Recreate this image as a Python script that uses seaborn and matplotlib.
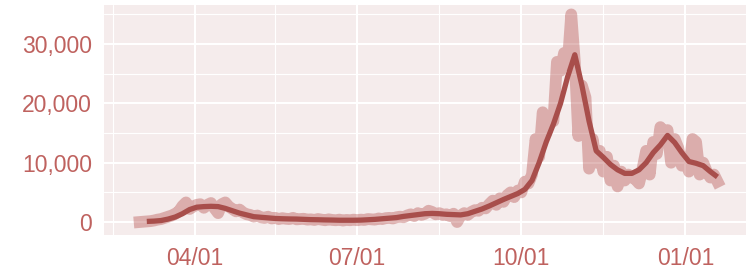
import matplotlib
matplotlib.use("Agg")
import matplotlib.pyplot as plt
import matplotlib.dates as mdates
import matplotlib.ticker as mticker
import seaborn as sns
import pandas as pd

# daily cases, sampled every 2 days from 2020-03-01
raw_cases = [
    0, 50, 100, 150, 250, 400, 500, 700, 900, 1100, 1400, 1800, 2700, 3300, 2200, 2600,
    2900, 3000, 2400, 2900, 3200, 2300, 1500, 3000, 3300, 2600, 2200, 1800, 2100, 1600, 1300,
    1200, 900, 1100, 800, 700, 900, 600, 700, 500, 650, 550, 500, 700, 450, 500,
    550, 400, 450, 350, 500, 400, 300, 450, 350, 300, 400, 250, 350, 300, 400,
    300, 400, 350, 500, 450, 400, 600, 500, 650, 700, 600, 800, 900, 800, 1100,
    1300, 1000, 1500, 1200, 1400, 1900, 1700, 1300, 1500, 1200, 1300, 1000, 1400, 0, 1100,
    1500, 1200, 1700, 2000, 1900, 2400, 2300, 3000, 3600, 2900, 4000, 3400, 4500, 5000, 4200,
    5300, 5000, 6800, 6500, 8000, 14000, 11000, 18500, 15000, 17500, 17000, 27000, 25500, 28500, 26500,
    35000, 27000, 14500, 23000, 21000, 9000, 14000, 10000, 12000, 8500, 11000, 7000, 9500, 6000, 8500,
    7000, 8000, 7500, 7200, 6500, 9000, 12000, 8000, 13500, 11500, 16000, 14000, 15500, 10000, 14000,
    12500, 9500, 11000, 8500, 14000, 13500, 8000, 10000, 8500, 7500, 8000, 6800,
]

# smoothed average, sampled every 4 days from 2020-03-05
avg_cases = [
    100, 150, 250, 500, 850, 1400, 2100, 2500, 2600, 2650, 2600, 2300, 1900, 1500, 1200,
    900, 800, 700, 600, 550, 520, 500, 450, 400, 380, 350, 330, 300, 300, 300,
    320, 380, 450, 550, 650, 750, 950, 1100, 1250, 1400, 1450, 1400, 1300, 1250, 1200,
    1400, 1800, 2200, 2700, 3250, 3800, 4300, 4800, 5500, 7000, 10000, 13500, 16500, 20000, 24500,
    28200, 23000, 17000, 12000, 10900, 9700, 8800, 8200, 8200, 8800, 10000, 11700, 13000, 14600, 13400,
    11700, 10200, 9900, 9500, 8500, 7600,
]

raw_dates = pd.date_range("2020-03-01", periods=len(raw_cases), freq="2D")
avg_dates = pd.date_range("2020-03-05", periods=len(avg_cases), freq="4D")

major_dates = pd.to_datetime(["2020-04-01", "2020-07-01", "2020-10-01", "2021-01-01"])
minor_dates = pd.to_datetime(["2020-02-15", "2020-05-16", "2020-08-16", "2020-11-16"])

raw_df = pd.DataFrame({"date": raw_dates, "cases": raw_cases})
avg_df = pd.DataFrame({"date": avg_dates, "cases": avg_cases})

text_color = "#BF625F"
line_color = "#A84E4B"

sns.set_theme(style="darkgrid", rc={
    "axes.facecolor": "#F5ECEC",
    "grid.color": "white",
})
plt.rcParams["font.family"] = ["Liberation Sans", "DejaVu Sans"]

fig, ax = plt.subplots(figsize=(7.46, 2.70), dpi=100)
fig.subplots_adjust(left=0.1394, right=1.0, bottom=0.1296, top=0.9815)

sns.lineplot(data=raw_df, x="date", y="cases", ax=ax, color="#B5504E", alpha=0.4,
             linewidth=8.5, solid_capstyle="projecting", solid_joinstyle="round")
sns.lineplot(data=avg_df, x="date", y="cases", ax=ax, color=line_color,
             linewidth=3.8, solid_capstyle="butt", solid_joinstyle="round")

ax.set_xlim(pd.Timestamp("2020-02-10"), pd.Timestamp("2021-02-04"))
ax.set_ylim(-2190, 36590)

ax.set_xticks(major_dates)
ax.set_xticks(minor_dates, minor=True)
ax.xaxis.set_major_formatter(mdates.DateFormatter("%m/%d"))
ax.set_yticks([0, 10000, 20000, 30000])
ax.set_yticks([5000, 15000, 25000, 35000], minor=True)
ax.yaxis.set_major_formatter(mticker.StrMethodFormatter("{x:,.0f}"))

ax.grid(which="major", color="white", linewidth=1.5)
ax.grid(which="minor", color="white", linewidth=0.8)
ax.tick_params(which="major", length=4.5, width=1.6, color=text_color,
               labelcolor=text_color, labelsize=16.5, pad=4)
ax.tick_params(which="minor", length=0)
ax.set_xlabel("")
ax.set_ylabel("")
for s in ax.spines.values():
    s.set_visible(False)

fig.savefig("out.png", dpi=100)
